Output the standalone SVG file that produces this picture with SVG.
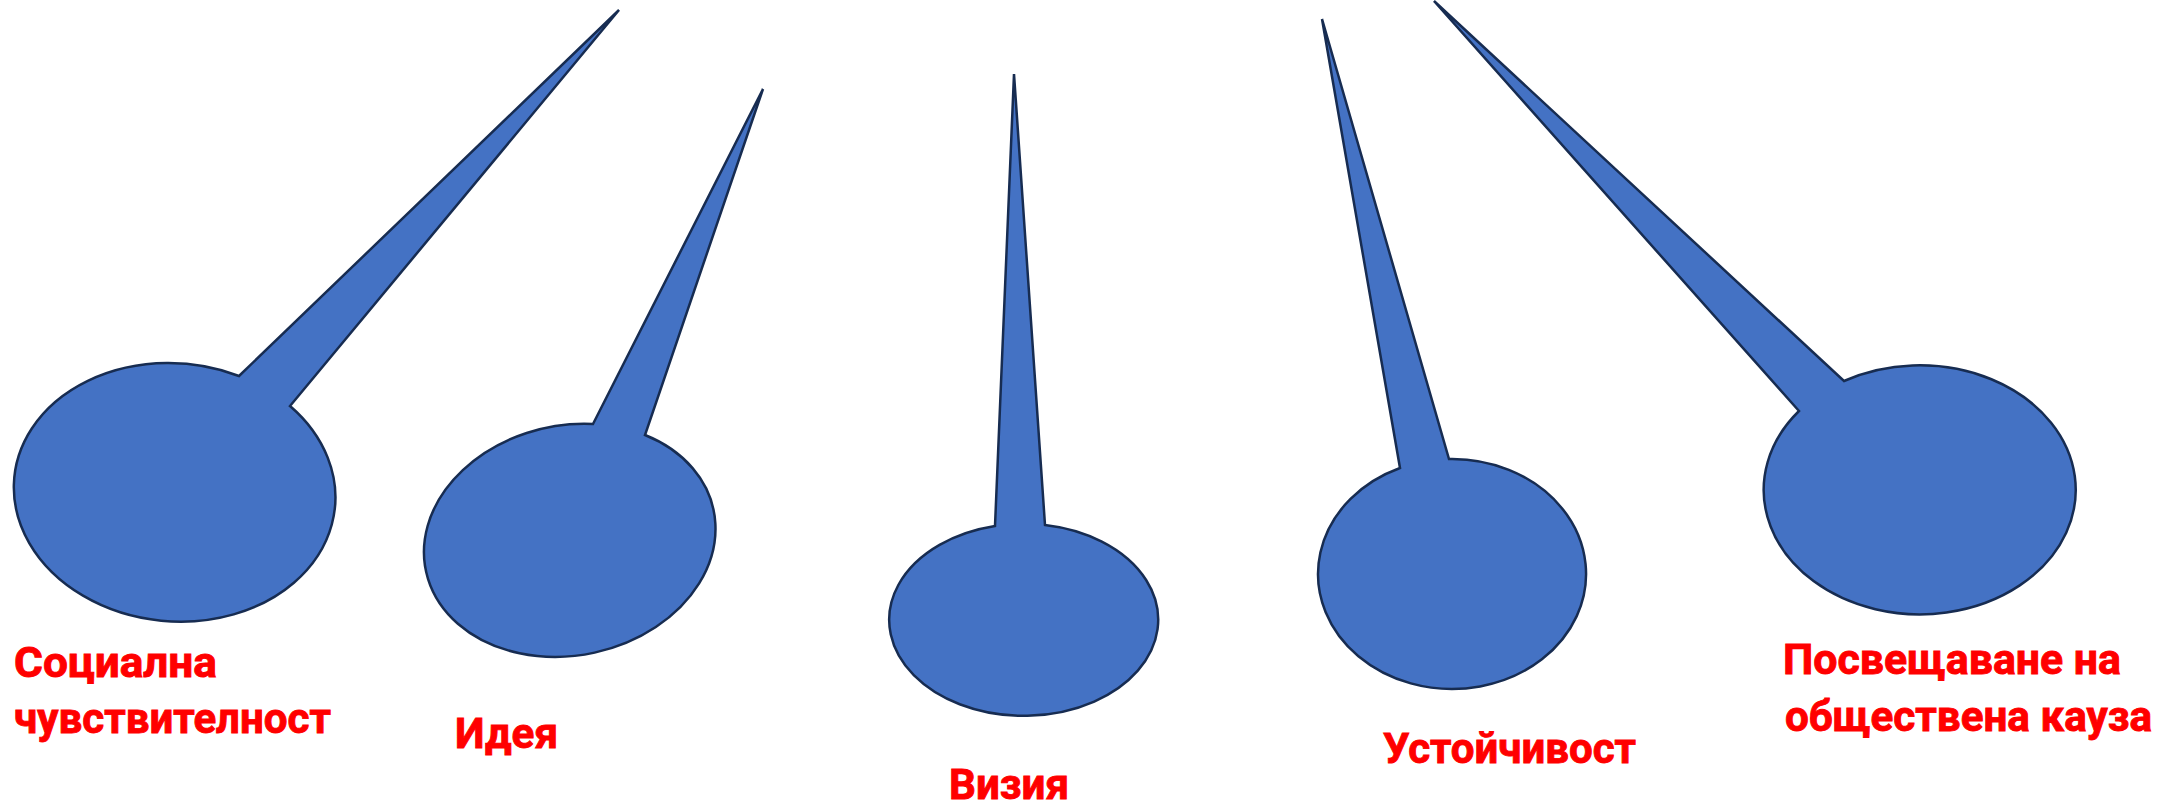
<svg xmlns="http://www.w3.org/2000/svg" width="2181" height="806" viewBox="0 0 2181 806">
<style>
.callout{fill:#4472C4;stroke:#172C51;stroke-width:2.5;stroke-linejoin:miter;stroke-miterlimit:10}
.lbl{font-family:Roboto,"Liberation Sans","DejaVu Sans",sans-serif;font-weight:bold;font-size:42px;fill:#FF0000;stroke:#FF0000;stroke-width:0.9}
</style>
<rect width="2181" height="806" fill="#FFFFFF"/>
<g id="node-social">
<path class="callout" d="M239,376 L619,10 L290,406 A161,129 5 1 1 239,376 Z"/>
<text class="lbl" x="14" y="677" textLength="203" lengthAdjust="spacingAndGlyphs">Социална</text>
<text class="lbl" x="14" y="733" textLength="317" lengthAdjust="spacingAndGlyphs">чувствителност</text>
</g>
<g id="node-idea">
<path class="callout" d="M593,424 L763,89 L645,435 A147,115 -12 1 1 593,424 Z"/>
<text class="lbl" x="455" y="748" textLength="103" lengthAdjust="spacingAndGlyphs">Идея</text>
</g>
<g id="node-vision">
<path class="callout" d="M995,526 L1014,74 L1045,525 A134.5,96 0 1 1 995,526 Z"/>
<text class="lbl" x="949" y="799" textLength="120" lengthAdjust="spacingAndGlyphs">Визия</text>
</g>
<g id="node-sustain">
<path class="callout" d="M1400,468 L1322,19 L1449,459 A134,115 0 1 1 1400,468 Z"/>
<text class="lbl" x="1383" y="763" textLength="253" lengthAdjust="spacingAndGlyphs">Устойчивост</text>
</g>
<g id="node-cause">
<path class="callout" d="M1799,411 L1434,1 L1844,381 A156,124.5 0 1 1 1799,411 Z"/>
<text class="lbl" x="1783" y="674" textLength="338" lengthAdjust="spacingAndGlyphs">Посвещаване на</text>
<text class="lbl" x="1785" y="731" textLength="367" lengthAdjust="spacingAndGlyphs">обществена кауза</text>
</g>
</svg>
